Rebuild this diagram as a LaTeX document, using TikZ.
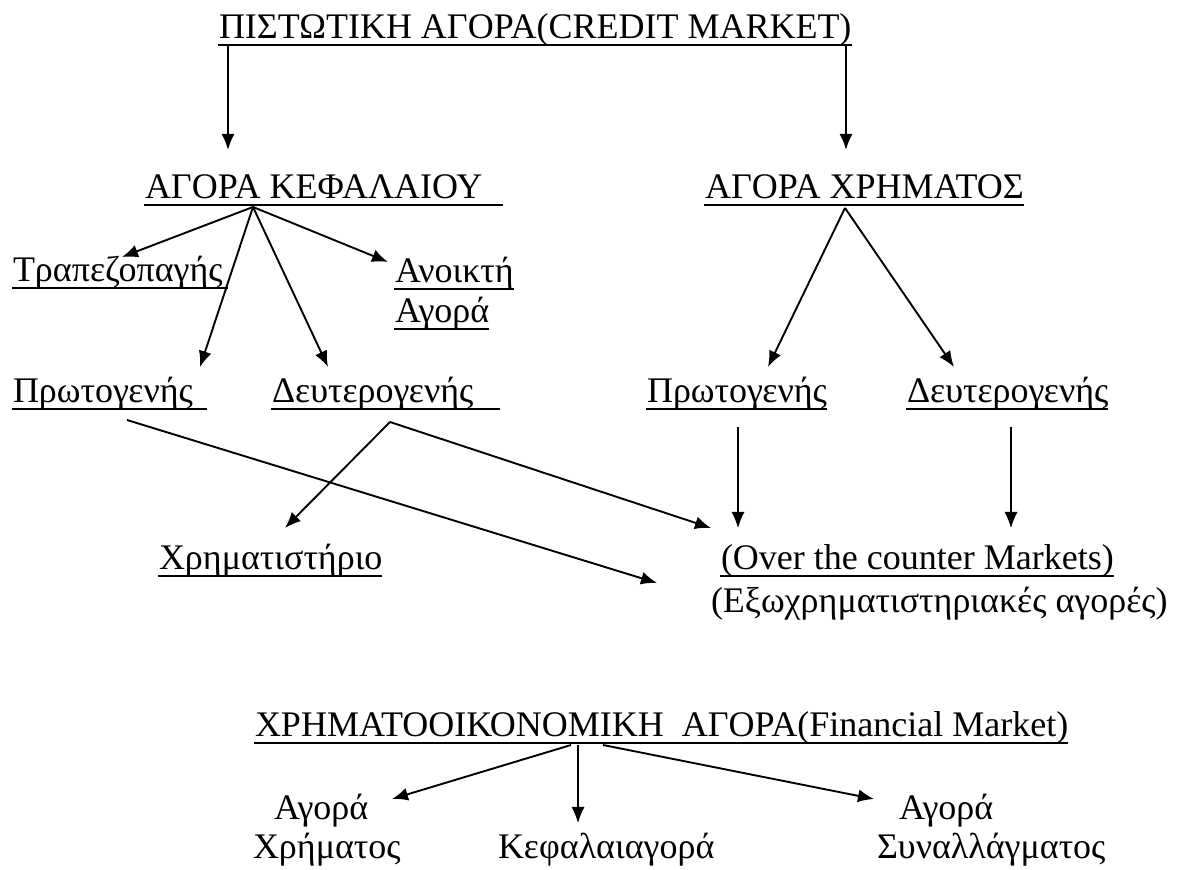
\documentclass[tikz,border=0pt]{standalone}
\usepackage{fontspec}
\setmainfont{Liberation Serif}
\usetikzlibrary{arrows.meta}

\begin{document}
\begin{tikzpicture}[x=0.5pt,y=0.5pt,>={Latex[length=8pt,width=6.5pt]},font=\fontsize{18}{19.5}\selectfont]
\tikzset{
  word/.style={inner sep=0pt,outer sep=0pt,anchor=base west},
  ul/.style={append after command={([shift={(-1,-6)}]\tikzlastnode.base west) edge[-,line width=1pt] ([shift={(#1,-6)}]\tikzlastnode.base east)}},
  ul/.default=0,
  arr/.style={->,line width=0.95pt},
  thinarr/.style={->,line width=0.6pt}
}
\useasboundingbox (0,0) rectangle (1178,-870);

\node[word,ul] (credit) at (219,-39) {ΠΙΣΤΩΤΙΚΗ ΑΓΟΡΑ(CREDIT MARKET)};
\node[word,ul=21] (kef) at (145,-199) {ΑΓΟΡΑ ΚΕΦΑΛΑΙΟΥ};
\node[word,ul] (xrim) at (705,-199) {ΑΓΟΡΑ ΧΡΗΜΑΤΟΣ};
\node[word,ul=5] (trap) at (13,-282) {Τραπεζοπαγής};
\node[word,ul] (anoikti) at (395,-283) {Ανοικτή};
\node[word,ul] (anagora) at (395,-323) {Αγορά};
\node[word,ul=14] (protL) at (13,-403) {Πρωτογενής};
\node[word,ul=27] (deutL) at (272,-403) {Δευτερογενής};
\node[word,ul] (protR) at (647,-403) {Πρωτογενής};
\node[word,ul] (deutR) at (907,-403) {Δευτερογενής};
\node[word,ul] (xrimat) at (159,-570) {Χρηματιστήριο};
\node[word,ul] (otc) at (721,-570) {(Over the counter Markets)};
\node[word] (otcgr) at (711,-613) {(Εξωχρηματιστηριακές αγορές)};
\node[word,ul] (fin) at (255,-737) {ΧΡΗΜΑΤΟΟΙΚΟΝΟΜΙΚΗ\ \ ΑΓΟΡΑ(Financial Market)};
\node[word,align=left] (agx) at (253,-858) {\hspace*{10.5pt}Αγορά\\Χρήματος};
\node[word] (kefag) at (498,-858) {Κεφαλαιαγορά};
\node[word,align=left] (agsyn) at (877,-858) {\hspace*{11pt}Αγορά\\Συναλλάγματος};

\coordinate (kefb) at ([shift={(108,-8)}]kef.base west);
\coordinate (xrimb) at ([shift={(140,-9)}]xrim.base west);

\draw[arr] ([shift={(9,-7)}]credit.base west) -- ([shift={(83,49)}]kef.base west);
\draw[arr] ([shift={(627,-7)}]credit.base west) -- ([shift={(141,49)}]xrim.base west);

\draw[arr] (kefb) -- ([shift={(109,25)}]trap.base west);
\draw[arr] (kefb) -- ([shift={(187,36)}]protL.base west);
\draw[arr] (kefb) -- ([shift={(56,36)}]deutL.base west);
\draw[arr] (kefb) -- ([shift={(-7,21)}]anoikti.base west);

\draw[arr] (xrimb) -- ([shift={(121,36)}]protR.base west);
\draw[arr] (xrimb) -- ([shift={(47,36)}]deutR.base west);

\draw[thinarr] ([shift={(91,-24)}]protR.base west) -- ([shift={(17,42)}]otc.base west);
\draw[thinarr] ([shift={(104,-24)}]deutR.base west) -- ([shift={(290,42)}]otc.base west);
\draw[arr] ([shift={(118,-19)}]deutL.base west) -- ([shift={(126,42)}]xrimat.base west);
\draw[arr] ([shift={(118,-19)}]deutL.base west) -- ([shift={(-10,42)}]otc.base west);
\draw[arr] ([shift={(114,-17)}]protL.base west) -- ([shift={(-64,-13)}]otc.base west);

\draw[arr] ([shift={(316,-8)}]fin.base west) -- ([shift={(139,59)}]agx.base west);
\draw[thinarr] ([shift={(323,-8)}]fin.base west) -- ([shift={(80,35)}]kefag.base west);
\draw[arr] ([shift={(348,-8)}]fin.base west) -- ([shift={(-3,59)}]agsyn.base west);
\end{tikzpicture}
\end{document}
